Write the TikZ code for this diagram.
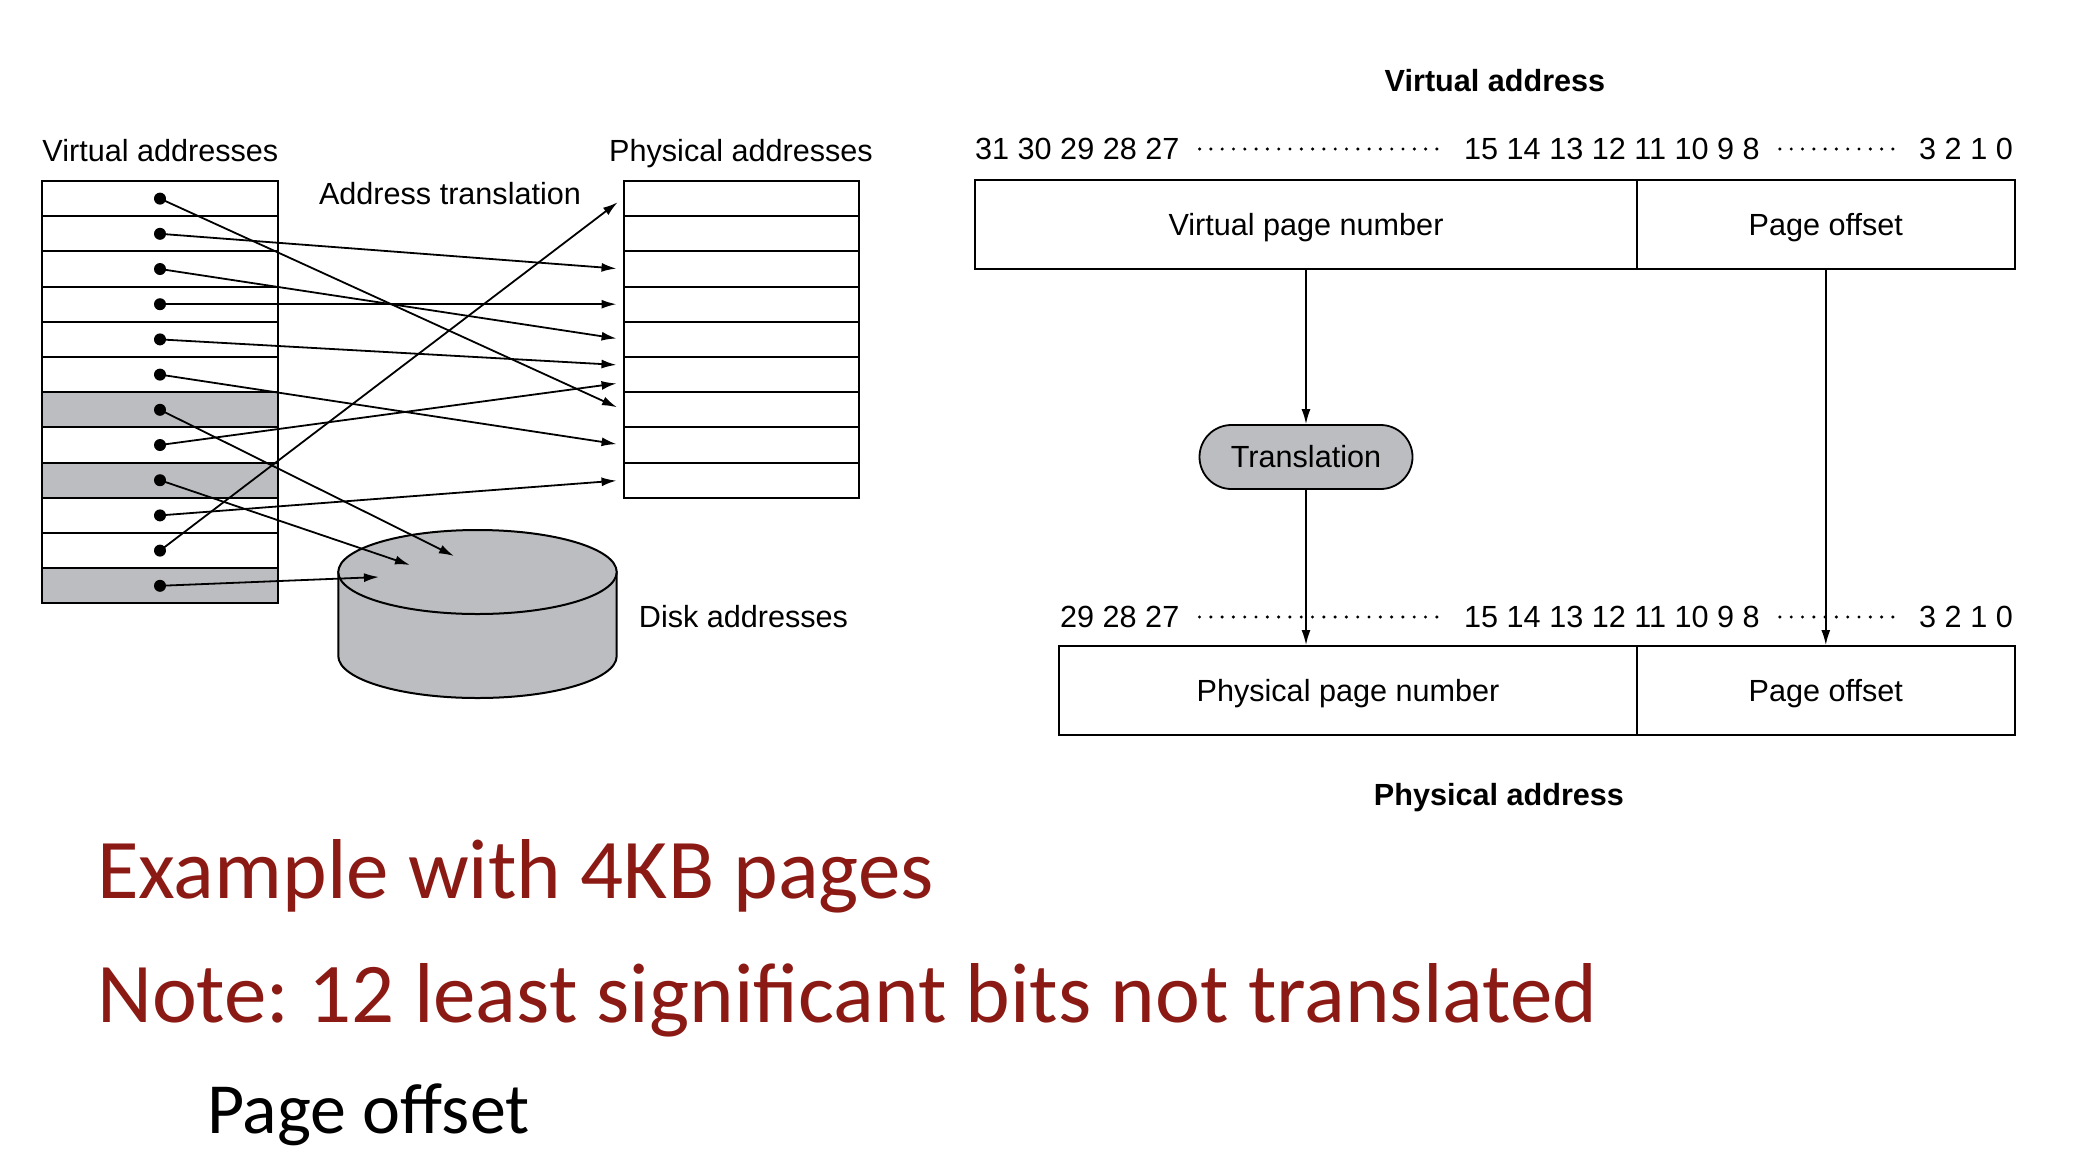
\documentclass[tikz,border=0pt]{standalone}
\usepackage{fontspec}
\setmainfont{Liberation Sans}
\newfontfamily\slidefont{Carlito}
\usepackage{tikz}
\usetikzlibrary{arrows.meta, positioning}
\definecolor{diskgray}{RGB}{188,189,192}
\definecolor{slidered}{RGB}{140,26,20}
\newcommand{\diagsize}{\fontsize{30.6bp}{36bp}\selectfont}
\frenchspacing

\begin{document}
\begin{tikzpicture}[
  x=1bp, y=-1bp,
  vrow/.style={draw, line width=2bp, minimum width=235bp, minimum height=35.2bp, inner sep=0bp},
  shaded/.style={vrow, fill=diskgray},
  dot/.style={circle, fill=black, minimum size=12bp, inner sep=0bp},
  link/.style={-{Latex[length=15bp,width=9bp]}, line width=1.8bp, shorten >=6bp},
  lbl/.style={font=\diagsize, inner sep=0bp, text height=21.9bp, text depth=0bp},
  field/.style={draw, line width=2bp, minimum height=89bp, inner sep=0bp, font=\diagsize, text height=21.9bp, text depth=0bp},
  bitdots/.style={line width=3.4bp, line cap=round, dash pattern=on 0bp off 11.3bp, shorten <=20bp, shorten >=20bp},
  down/.style={-{Latex[length=15bp,width=9bp]}, line width=1.6bp},
  disk/.style={fill=diskgray, draw=black, line width=2bp},
  slide/.style={font=\slidefont\fontsize{85bp}{100bp}\selectfont, text=slidered, anchor=base west, inner sep=0bp}
]
\useasboundingbox[fill=white] (0,0) rectangle (2076,1168);

% Disk
\filldraw[disk] (338.3,572) -- (338.3,656) arc[start angle=180, end angle=360, x radius=139.2bp, y radius=42bp] -- (616.7,572) -- cycle;
\filldraw[disk] (477.5,572) ellipse [x radius=139.2bp, y radius=42bp];
\coordinate (dk1) at (454,556);
\coordinate (dk2) at (410,565);
\coordinate (dk3) at (379,577);

% Virtual pages
\node[vrow]   (v1)  at (160,198.6) {};
\node[vrow]   (v2)  at (160,233.8) {};
\node[vrow]   (v3)  at (160,269.0) {};
\node[vrow]   (v4)  at (160,304.2) {};
\node[vrow]   (v5)  at (160,339.4) {};
\node[vrow]   (v6)  at (160,374.6) {};
\node[shaded] (v7)  at (160,409.8) {};
\node[vrow]   (v8)  at (160,445.0) {};
\node[shaded] (v9)  at (160,480.2) {};
\node[vrow]   (v10) at (160,515.4) {};
\node[vrow]   (v11) at (160,550.6) {};
\node[shaded] (v12) at (160,585.8) {};

% Physical pages
\node[vrow] (p1) at (741,198.6) {};
\node[vrow] (p2) at (741,233.8) {};
\node[vrow] (p3) at (741,269.0) {};
\node[vrow] (p4) at (741,304.2) {};
\node[vrow] (p5) at (741,339.4) {};
\node[vrow] (p6) at (741,374.6) {};
\node[vrow] (p7) at (741,409.8) {};
\node[vrow] (p8) at (741,445.0) {};
\node[vrow] (p9) at (741,480.2) {};

% Labels
\node[lbl] (vlab) at (160.4,150.6) {Virtual addresses};
\node[lbl] (plab) at (741,151) {Physical addresses};
\node[lbl] (tlab) at (450,194) {Address translation};
\node[lbl] (dlab) at (743.5,617) {Disk addresses};

% Mappings
\draw[link] (v1.center)  -- (p7.west);
\draw[link] (v2.center)  -- (p3.west);
\draw[link] (v3.center)  -- (p5.west);
\draw[link] (v4.center)  -- (p4.west);
\draw[link] (v5.center)  -- ([yshift=9.4bp]p6.west);
\draw[link] (v6.center)  -- (p8.west);
\draw[link, shorten >=0bp] (v7.center) -- (dk1);
\draw[link] (v8.center)  -- ([yshift=-8bp]p6.west);
\draw[link, shorten >=0bp] (v9.center) -- (dk2);
\draw[link] (v10.center) -- (p9.west);
\draw[link] (v11.center) -- (p1.west);
\draw[link, shorten >=0bp] (v12.center) -- (dk3);

% Dots
\node[dot] (d1)  at (v1.center)  {};
\node[dot] (d2)  at (v2.center)  {};
\node[dot] (d3)  at (v3.center)  {};
\node[dot] (d4)  at (v4.center)  {};
\node[dot] (d5)  at (v5.center)  {};
\node[dot] (d6)  at (v6.center)  {};
\node[dot] (d7)  at (v7.center)  {};
\node[dot] (d8)  at (v8.center)  {};
\node[dot] (d9)  at (v9.center)  {};
\node[dot] (d10) at (v10.center) {};
\node[dot] (d11) at (v11.center) {};
\node[dot] (d12) at (v12.center) {};

% Virtual address
\node[lbl, font=\diagsize\bfseries] (vatitle) at (1495,81) {Virtual address};
\node[lbl, anchor=west] (vhi)  at (975,149)  {31 30 29 28 27};
\node[lbl, anchor=west] (vmid) at (1464,149) {15 14 13 12 11 10 9 8};
\node[lbl, anchor=east] (vlo)  at (2013,149) {3 2 1 0};
\draw[bitdots] (vhi.east) -- (vmid.west);
\draw[bitdots] (vmid.east) -- (vlo.west);
\node[field, minimum width=662bp]   (vpn) at (1306,224.5)   {Virtual page number};
\node[field, minimum width=377.6bp] (vpo) at (1825.8,224.5) {Page offset};

% Translation
\node[lbl, draw, line width=1.8bp, fill=diskgray, rounded corners=32bp, minimum width=213bp, minimum height=64bp] (trans) at (1306,457) {Translation};

% Physical address
\node[lbl, anchor=west] (phi)  at (1060,617) {29 28 27};
\node[lbl, anchor=west] (pmid) at (1464,617) {15 14 13 12 11 10 9 8};
\node[lbl, anchor=east] (plo)  at (2013,617) {3 2 1 0};
\draw[bitdots] (phi.east) -- (pmid.west);
\draw[bitdots] (pmid.east) -- (plo.west);
\node[field, minimum width=578bp]   (ppn) at (1348,690.5)   {Physical page number};
\node[field, minimum width=377.6bp] (ppo) at (1825.8,690.5) {Page offset};
\node[lbl, font=\diagsize\bfseries] (patitle) at (1499,795) {Physical address};

% Arrows
\draw[down] (vpn.south) -- (trans.north);
\draw[down] (trans.south) -- (trans.south |- ppn.north);
\draw[down] (vpo.south) -- (ppo.north);

% Slide text
\node[slide] (ex)   at (97,898.6) {Example with 4KB pages};
\node[slide] (note) at (97,1022)  {Note: 12 least significant bits not translated};
\node[slide, text=black, font=\slidefont\fontsize{72bp}{86bp}\selectfont] (po) at (207,1133) {Page offset};

\end{tikzpicture}
\end{document}
